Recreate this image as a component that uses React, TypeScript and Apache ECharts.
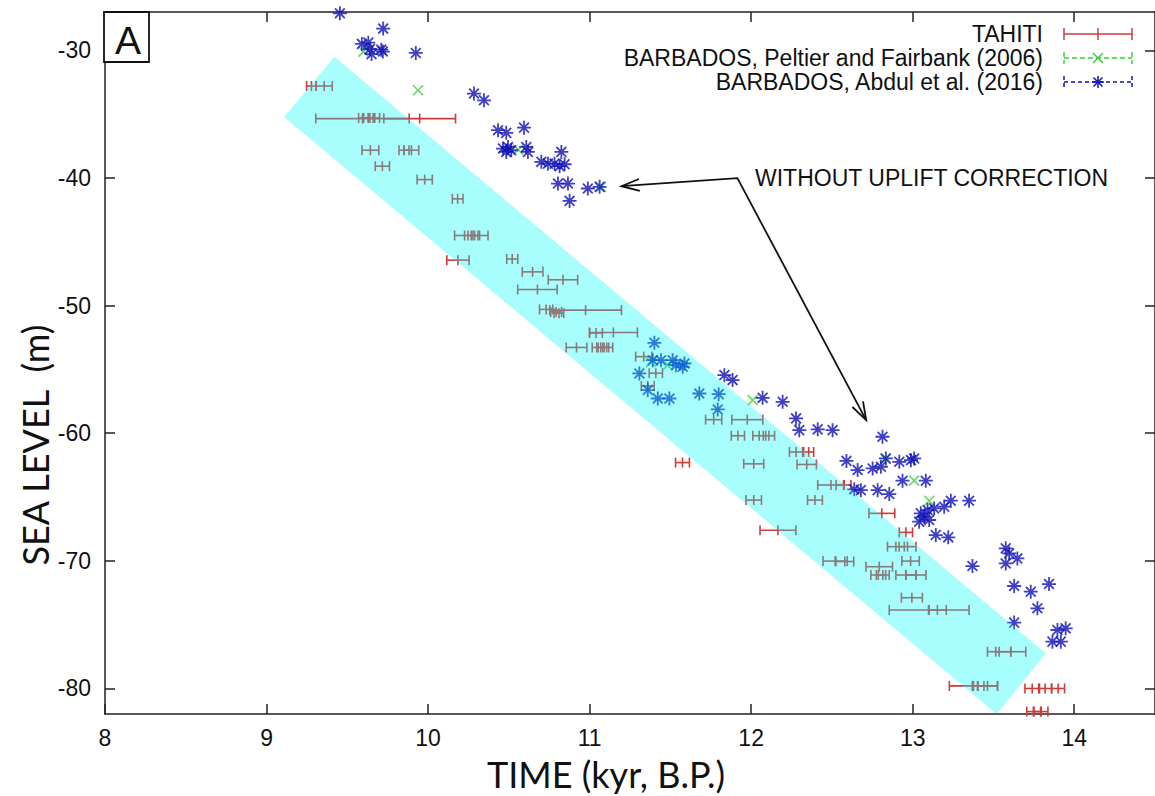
import React, { useEffect, useRef } from "react";
import * as echarts from "echarts";

const xTicks = [8, 9, 10, 11, 12, 13, 14];
const yTicks = [-80, -70, -60, -50, -40, -30];

// TAHITI: centre time, sea level, half-width of time error
const tahitiX = [9.278, 9.357, 9.594, 9.948, 9.6, 9.63, 9.67, 9.643, 9.851, 9.897, 9.717, 9.979, 10.183, 10.226, 10.278, 10.319, 10.185, 10.521, 10.647, 10.835, 10.677, 10.975, 10.731, 10.793, 10.81, 11.147, 11.04, 10.919, 11.053, 11.081, 11.106, 11.335, 11.41, 11.36, 11.768, 11.976, 11.918, 12.05, 12.11, 12.278, 12.356, 11.575, 12.016, 12.344, 12.494, 12.572, 12.016, 12.395, 12.166, 12.809, 12.958, 12.896, 12.968, 12.52, 12.58, 12.987, 12.793, 12.787, 12.815, 12.958, 13.02, 12.995, 13.102, 13.153, 13.535, 13.607, 13.376, 13.405, 13.463, 13.74, 13.82, 13.9, 13.751, 13.792];
const tahitiY = [-32.8, -32.8, -35.35, -35.35, -35.3, -35.3, -35.3, -37.83, -37.83, -37.83, -39.08, -40.13, -41.64, -44.51, -44.51, -44.51, -46.44, -46.35, -47.36, -47.98, -48.74, -50.36, -50.3, -50.5, -50.6, -52.11, -52.15, -53.28, -53.28, -53.28, -53.28, -54.0, -55.3, -56.3, -58.94, -58.94, -60.2, -60.2, -60.2, -61.47, -61.47, -62.3, -62.4, -62.45, -64.06, -64.06, -65.24, -65.24, -67.6, -66.28, -67.77, -68.89, -68.89, -70.02, -70.05, -70.02, -70.46, -71.11, -71.11, -71.11, -71.11, -72.89, -73.85, -73.85, -77.12, -77.12, -79.8, -79.8, -79.8, -80.0, -80.0, -80.0, -81.81, -81.81];
const tahitiErr = [0.03, 0.05, 0.289, 0.222, 0.03, 0.03, 0.03, 0.052, 0.031, 0.045, 0.044, 0.047, 0.033, 0.062, 0.031, 0.052, 0.069, 0.034, 0.064, 0.091, 0.122, 0.222, 0.041, 0.034, 0.03, 0.149, 0.039, 0.064, 0.037, 0.037, 0.037, 0.05, 0.041, 0.04, 0.05, 0.096, 0.041, 0.04, 0.035, 0.041, 0.031, 0.043, 0.062, 0.06, 0.082, 0.046, 0.048, 0.046, 0.111, 0.08, 0.041, 0.052, 0.052, 0.075, 0.055, 0.054, 0.082, 0.046, 0.04, 0.062, 0.062, 0.065, 0.247, 0.055, 0.072, 0.093, 0.149, 0.036, 0.062, 0.045, 0.04, 0.04, 0.045, 0.045];

// BARBADOS, Peltier and Fairbank (2006)
const peltierX = [9.6, 9.938, 10.557, 11.07, 11.38, 11.483, 12.01, 12.83, 13.009, 13.102];
const peltierY = [-30.1, -33.13, -37.78, -40.7, -54.41, -54.67, -57.41, -62.0, -63.72, -65.29];

// BARBADOS, Abdul et al. (2016)
const abdulX = [9.454, 9.722, 9.59, 9.63, 9.65, 9.64, 9.71, 9.72, 9.924, 10.284, 10.346, 10.433, 10.484, 10.594, 10.464, 10.495, 10.515, 10.484, 10.608, 10.618, 10.825, 10.701, 10.742, 10.783, 10.814, 10.845, 10.804, 10.866, 10.989, 11.062, 10.876, 11.401, 11.308, 11.391, 11.442, 11.514, 11.535, 11.576, 11.587, 11.36, 11.422, 11.494, 11.679, 11.799, 11.793, 11.834, 11.885, 12.071, 12.195, 12.278, 12.298, 12.412, 12.504, 12.59, 12.813, 12.659, 12.752, 12.803, 12.834, 12.917, 12.989, 13.009, 12.937, 13.081, 12.638, 12.679, 12.783, 12.855, 13.236, 13.349, 13.05, 13.092, 13.133, 13.195, 13.04, 13.102, 13.071, 13.143, 13.22, 13.37, 13.576, 13.597, 13.648, 13.576, 13.628, 13.844, 13.731, 13.772, 13.628, 13.896, 13.947, 13.865, 13.917];
const abdulY = [-27.1, -28.3, -29.5, -29.4, -30.3, -29.9, -29.95, -30.1, -30.21, -33.39, -33.92, -36.26, -36.47, -36.06, -37.7, -37.57, -37.83, -37.96, -37.57, -37.96, -37.96, -38.74, -38.88, -38.88, -39.08, -38.93, -40.44, -40.44, -40.83, -40.7, -41.8, -52.92, -55.32, -54.28, -54.28, -54.28, -54.67, -54.8, -54.54, -56.62, -57.28, -57.28, -56.89, -56.94, -58.14, -55.45, -55.84, -57.23, -57.54, -58.84, -59.76, -59.7, -59.76, -62.17, -60.28, -62.89, -62.76, -62.63, -61.98, -62.24, -62.11, -61.98, -63.72, -63.72, -64.4, -64.46, -64.46, -64.77, -65.29, -65.29, -66.28, -66.02, -65.89, -65.76, -66.93, -66.8, -66.54, -67.98, -68.16, -70.41, -69.02, -69.41, -69.81, -70.2, -71.97, -71.82, -72.42, -73.72, -74.84, -75.42, -75.29, -76.33, -76.33];

// shaded band corners (time, sea level)
const bandX = [9.42, 13.824, 13.52, 9.109];
const bandY = [-30.5, -77.25, -82.0, -35.22];

// annotation arrow anchor points (time, sea level)
const arrowTip1 = [11.197, -40.65];
const arrowCorner = [11.915, -40.02];
const arrowTip2 = [12.712, -58.97];

const RED = "#d03a3a";
const GREEN = "#3ccf3c";
const BLUE = "#1010b4";
const ASTER = "path://M5 0 L5 10 M0 5 L10 5 M1.5 1.5 L8.5 8.5 M1.5 8.5 L8.5 1.5";
const CROSS = "path://M0 0 L10 10 M0 10 L10 0";
const LABEL_FONT = "Liberation Sans";
const TITLE_FONT = "Lato";
const FS = 23;

export default function App() {
  const ref = useRef<HTMLDivElement>(null);
  useEffect(() => {
    const chart = echarts.init(ref.current!, null, { renderer: "svg" });
    const axisLine = { show: true, lineStyle: { color: "#222", width: 1.5 } };
    const tickStyle = { show: true, inside: true, length: 10, lineStyle: { color: "#222", width: 1.5 } };
    const tahitiData = tahitiX.map((x, i) => [x, tahitiY[i], tahitiErr[i]]);
    const option: any = {
      animation: false,
      backgroundColor: "#fff",
      grid: { left: 105, top: 12, width: 1051, height: 702, containLabel: false },
      xAxis: [
        {
          type: "value", min: 8, max: 14.5, position: "bottom",
          axisLine, splitLine: { show: false },
          axisTick: { ...tickStyle, customValues: xTicks },
          axisLabel: { customValues: xTicks, margin: 12, fontSize: FS, fontFamily: LABEL_FONT, color: "#111" },
        },
        {
          type: "value", min: 8, max: 14.5, position: "top",
          axisLine, splitLine: { show: false },
          axisTick: { ...tickStyle, customValues: xTicks },
          axisLabel: { show: false },
        },
      ],
      yAxis: [
        {
          type: "value", min: -82, max: -27, position: "left",
          axisLine, splitLine: { show: false },
          axisTick: { ...tickStyle, customValues: yTicks },
          axisLabel: { customValues: yTicks, margin: 14, fontSize: FS, fontFamily: LABEL_FONT, color: "#111" },
        },
        {
          type: "value", min: -82, max: -27, position: "right",
          axisLine, splitLine: { show: false },
          axisTick: { ...tickStyle, customValues: yTicks },
          axisLabel: { show: false },
        },
      ],
      series: [
        {
          name: "TAHITI",
          type: "custom",
          xAxisIndex: 0, yAxisIndex: 0,
          data: tahitiData,
          encode: { x: 0, y: 1 },
          z: 2,
          renderItem: (params: any, api: any) => {
            const x = api.value(0), y = api.value(1), e = api.value(2);
            const l = api.coord([x - e, y]);
            const r = api.coord([x + e, y]);
            const c = api.coord([x, y]);
            const h = 5;
            const st = { stroke: RED, lineWidth: 1.6 };
            return {
              type: "group",
              children: [
                { type: "line", shape: { x1: l[0], y1: l[1], x2: r[0], y2: r[1] }, style: st },
                { type: "line", shape: { x1: l[0], y1: l[1] - h, x2: l[0], y2: l[1] + h }, style: st },
                { type: "line", shape: { x1: r[0], y1: r[1] - h, x2: r[0], y2: r[1] + h }, style: st },
                { type: "line", shape: { x1: c[0], y1: c[1] - h, x2: c[0], y2: c[1] + h }, style: st },
              ],
            };
          },
        },
        {
          name: "BARBADOS, Peltier and Fairbank (2006)",
          type: "scatter",
          data: peltierX.map((x, i) => [x, peltierY[i]]),
          symbol: CROSS,
          symbolSize: 10,
          itemStyle: { color: "transparent", borderColor: GREEN, borderWidth: 1.6 },
          z: 3,
        },
        {
          name: "BARBADOS, Abdul et al. (2016)",
          type: "scatter",
          data: abdulX.map((x, i) => [x, abdulY[i]]),
          symbol: ASTER,
          symbolSize: 14,
          itemStyle: { color: "transparent", borderColor: BLUE, borderWidth: 1.8 },
          z: 4,
        },
        {
          name: "band",
          type: "custom",
          data: [[bandX[0], bandY[0]]],
          encode: { x: 0, y: 1 },
          z: 10,
          silent: true,
          renderItem: (params: any, api: any) => {
            const pts = bandX.map((bx, i) => api.coord([bx, bandY[i]]));
            return {
              type: "polygon",
              shape: { points: pts },
              style: { fill: "rgba(0,250,250,0.34)", stroke: "none" },
            };
          },
        },
      ],
    };
    chart.setOption(option);

    const px = (p: number[]) => chart.convertToPixel({ xAxisIndex: 0, yAxisIndex: 0 }, p) as number[];
    const a1 = px(arrowTip1), ac = px(arrowCorner), a2 = px(arrowTip2);
    const head = (tip: number[], from: number[]) => {
      const dx = tip[0] - from[0], dy = tip[1] - from[1];
      const len = Math.hypot(dx, dy);
      const ux = dx / len, uy = dy / len;
      const L = 18, W = 6;
      const bx = tip[0] - ux * L, by = tip[1] - uy * L;
      return {
        type: "polyline",
        shape: { points: [[bx - uy * W, by + ux * W], tip, [bx + uy * W, by - ux * W]] },
        style: { stroke: "#111", lineWidth: 1.8, fill: "none" },
        z: 20,
      };
    };

    const legendRows = [
      { label: "TAHITI", y: 34, color: RED, dash: null as any, mark: "bar" },
      { label: "BARBADOS, Peltier and Fairbank (2006)", y: 58, color: GREEN, dash: [5, 3], mark: "x" },
      { label: "BARBADOS, Abdul et al. (2016)", y: 82, color: BLUE, dash: [4, 3], mark: "ast" },
    ];
    const lx0 = 1064, lx1 = 1132, lxc = 1098;
    const legendEls: any[] = [];
    legendRows.forEach((r) => {
      legendEls.push({
        type: "text", x: 1043, y: r.y, z: 20,
        style: { text: r.label, fontSize: FS, fontFamily: LABEL_FONT, fill: "#111", align: "right", verticalAlign: "middle" },
      });
      const st: any = { stroke: r.color, lineWidth: 1.5 };
      if (r.dash) st.lineDash = r.dash;
      legendEls.push({ type: "line", z: 20, shape: { x1: lx0, y1: r.y, x2: lx1, y2: r.y }, style: st });
      legendEls.push({ type: "line", z: 20, shape: { x1: lx0, y1: r.y - 6, x2: lx0, y2: r.y + 6 }, style: st });
      legendEls.push({ type: "line", z: 20, shape: { x1: lx1, y1: r.y - 6, x2: lx1, y2: r.y + 6 }, style: st });
      const ms = { stroke: r.color, lineWidth: 1.5 };
      if (r.mark === "bar") {
        legendEls.push({ type: "line", z: 20, shape: { x1: lxc, y1: r.y - 6, x2: lxc, y2: r.y + 6 }, style: ms });
      } else if (r.mark === "x") {
        legendEls.push({ type: "line", z: 20, shape: { x1: lxc - 5, y1: r.y - 5, x2: lxc + 5, y2: r.y + 5 }, style: ms });
        legendEls.push({ type: "line", z: 20, shape: { x1: lxc - 5, y1: r.y + 5, x2: lxc + 5, y2: r.y - 5 }, style: ms });
      } else {
        legendEls.push({ type: "line", z: 20, shape: { x1: lxc, y1: r.y - 6, x2: lxc, y2: r.y + 6 }, style: ms });
        legendEls.push({ type: "line", z: 20, shape: { x1: lxc - 6, y1: r.y, x2: lxc + 6, y2: r.y }, style: ms });
        legendEls.push({ type: "line", z: 20, shape: { x1: lxc - 4.5, y1: r.y - 4.5, x2: lxc + 4.5, y2: r.y + 4.5 }, style: ms });
        legendEls.push({ type: "line", z: 20, shape: { x1: lxc - 4.5, y1: r.y + 4.5, x2: lxc + 4.5, y2: r.y - 4.5 }, style: ms });
      }
    });

    chart.setOption({
      graphic: [
        { type: "rect", z: 20, shape: { x: 104, y: 12, width: 45, height: 50 }, style: { fill: "#fff", stroke: "#111", lineWidth: 1.8 } },
        { type: "text", z: 21, x: 128, y: 40, style: { text: "A", fontSize: 39, fontFamily: LABEL_FONT, fill: "#111", align: "center", verticalAlign: "middle" } },
        { type: "text", z: 20, x: 606, y: 774, style: { text: "TIME (kyr, B.P.)", fontSize: 36, fontFamily: TITLE_FONT, fill: "#111", align: "center", verticalAlign: "middle" } },
        { type: "text", z: 20, x: 35, y: 445, rotation: Math.PI / 2, style: { text: "SEA LEVEL  (m)", fontSize: 36, fontFamily: TITLE_FONT, fill: "#111", align: "center", verticalAlign: "middle" } },
        { type: "text", z: 20, x: 755, y: 178, style: { text: "WITHOUT UPLIFT CORRECTION", fontSize: FS, fontFamily: LABEL_FONT, fill: "#111", align: "left", verticalAlign: "middle" } },
        { type: "polyline", z: 20, shape: { points: [a1, ac, a2] }, style: { stroke: "#111", lineWidth: 1.8, fill: "none" } },
        head(a1, ac),
        head(a2, ac),
        ...legendEls,
      ],
    });
    return () => chart.dispose();
  }, []);
  return <div ref={ref} style={{ position: "fixed", left: 0, top: 0, width: 1155, height: 796, background: "#fff" }} />;
}
